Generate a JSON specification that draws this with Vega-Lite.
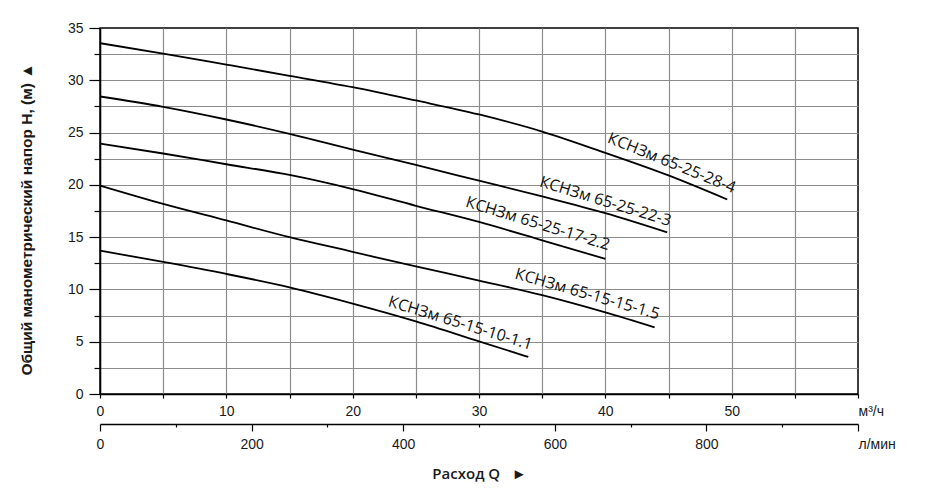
{
  "$schema": "https://vega.github.io/schema/vega-lite/v6.json",
  "width": 758,
  "height": 366,
  "autosize": "none",
  "padding": {"left": 100, "top": 28, "right": 69, "bottom": 110},
  "background": "white",
  "config": {
    "view": {"stroke": "black", "strokeWidth": 1.5},
    "axis": {
      "labelFont": "Liberation Sans",
      "labelFontSize": 14,
      "labelColor": "#1a1a1a",
      "domainColor": "black",
      "domainWidth": 1.5,
      "tickColor": "black",
      "tickWidth": 1.2,
      "labelFlush": false,
      "labelOverlap": false,
      "labelBound": false
    }
  },
  "datasets": {
    "curves": [
      {"pump": "КСНЗм 65-25-28-4", "q": 0, "H": 33.55},
      {"pump": "КСНЗм 65-25-28-4", "q": 5, "H": 32.56},
      {"pump": "КСНЗм 65-25-28-4", "q": 10, "H": 31.5},
      {"pump": "КСНЗм 65-25-28-4", "q": 15, "H": 30.43},
      {"pump": "КСНЗм 65-25-28-4", "q": 20, "H": 29.34},
      {"pump": "КСНЗм 65-25-28-4", "q": 25, "H": 28.07},
      {"pump": "КСНЗм 65-25-28-4", "q": 30, "H": 26.73},
      {"pump": "КСНЗм 65-25-28-4", "q": 35, "H": 25.1},
      {"pump": "КСНЗм 65-25-28-4", "q": 40, "H": 23.06},
      {"pump": "КСНЗм 65-25-28-4", "q": 45, "H": 20.9},
      {"pump": "КСНЗм 65-25-28-4", "q": 49.65, "H": 18.6},
      {"pump": "КСНЗм 65-25-22-3", "q": 0, "H": 28.45},
      {"pump": "КСНЗм 65-25-22-3", "q": 5, "H": 27.46},
      {"pump": "КСНЗм 65-25-22-3", "q": 10, "H": 26.25},
      {"pump": "КСНЗм 65-25-22-3", "q": 15, "H": 24.88},
      {"pump": "КСНЗм 65-25-22-3", "q": 20, "H": 23.37},
      {"pump": "КСНЗм 65-25-22-3", "q": 25, "H": 21.9},
      {"pump": "КСНЗм 65-25-22-3", "q": 30, "H": 20.4},
      {"pump": "КСНЗм 65-25-22-3", "q": 35, "H": 18.9},
      {"pump": "КСНЗм 65-25-22-3", "q": 40, "H": 17.3},
      {"pump": "КСНЗм 65-25-22-3", "q": 44.9, "H": 15.46},
      {"pump": "КСНЗм 65-25-17-2.2", "q": 0, "H": 23.95},
      {"pump": "КСНЗм 65-25-17-2.2", "q": 5, "H": 23.0},
      {"pump": "КСНЗм 65-25-17-2.2", "q": 10, "H": 21.97},
      {"pump": "КСНЗм 65-25-17-2.2", "q": 15, "H": 20.95},
      {"pump": "КСНЗм 65-25-17-2.2", "q": 20, "H": 19.6},
      {"pump": "КСНЗм 65-25-17-2.2", "q": 25, "H": 18.0},
      {"pump": "КСНЗм 65-25-17-2.2", "q": 30, "H": 16.45},
      {"pump": "КСНЗм 65-25-17-2.2", "q": 35, "H": 14.7},
      {"pump": "КСНЗм 65-25-17-2.2", "q": 40, "H": 12.92},
      {"pump": "КСНЗм 65-15-15-1.5", "q": 0, "H": 19.93},
      {"pump": "КСНЗм 65-15-15-1.5", "q": 5, "H": 18.18},
      {"pump": "КСНЗм 65-15-15-1.5", "q": 10, "H": 16.6},
      {"pump": "КСНЗм 65-15-15-1.5", "q": 15, "H": 15.0},
      {"pump": "КСНЗм 65-15-15-1.5", "q": 20, "H": 13.6},
      {"pump": "КСНЗм 65-15-15-1.5", "q": 25, "H": 12.2},
      {"pump": "КСНЗм 65-15-15-1.5", "q": 30, "H": 10.85},
      {"pump": "КСНЗм 65-15-15-1.5", "q": 35, "H": 9.45},
      {"pump": "КСНЗм 65-15-15-1.5", "q": 40, "H": 7.8},
      {"pump": "КСНЗм 65-15-15-1.5", "q": 43.9, "H": 6.37},
      {"pump": "КСНЗм 65-15-10-1.1", "q": 0, "H": 13.71},
      {"pump": "КСНЗм 65-15-10-1.1", "q": 5, "H": 12.63},
      {"pump": "КСНЗм 65-15-10-1.1", "q": 10, "H": 11.48},
      {"pump": "КСНЗм 65-15-10-1.1", "q": 15, "H": 10.2},
      {"pump": "КСНЗм 65-15-10-1.1", "q": 20, "H": 8.65},
      {"pump": "КСНЗм 65-15-10-1.1", "q": 25, "H": 6.95},
      {"pump": "КСНЗм 65-15-10-1.1", "q": 30, "H": 5.04},
      {"pump": "КСНЗм 65-15-10-1.1", "q": 33.9, "H": 3.54}
    ]
  },
  "layer": [
    {
      "data": {"name": "curves"},
      "encoding": {
        "x": {
          "field": "q",
          "type": "quantitative",
          "scale": {"domain": [0, 60], "nice": false, "zero": false},
          "axis": {
            "title": null,
            "values": [0, 5, 10, 15, 20, 25, 30, 35, 40, 45, 50, 55, 60],
            "labelExpr": "datum.value == 60 ? 'м³/ч' : (datum.value % 10 == 0 ? datum.label : '')",
            "labelAlign": {"condition": {"test": "datum.value == 60", "value": "left"}, "value": "center"},
            "tickSize": 4,
            "labelPadding": 6,
            "grid": true,
            "gridColor": "#8c8c8c",
            "gridOpacity": {"condition": {"test": "datum.value == 60", "value": 0}, "value": 1},
            "gridWidth": 1.2
          }
        },
        "y": {
          "field": "H",
          "type": "quantitative",
          "scale": {"domain": [0, 35], "nice": false},
          "axis": {
            "title": "Общий манометрический напор H, (м) ▲",
            "titleFont": "Liberation Sans",
            "titleFontWeight": "bold",
            "titleFontSize": 15.5,
            "titleColor": "#1a1a1a",
            "titlePadding": 33,
            "titleY": 191,
            "values": [0, 2.5, 5, 7.5, 10, 12.5, 15, 17.5, 20, 22.5, 25, 27.5, 30, 32.5, 35],
            "labelExpr": "datum.value % 5 == 0 ? datum.label : ''",
            "tickSize": {"condition": {"test": "datum.value % 5 == 0", "value": 11}, "value": 6},
            "labelPadding": 6,
            "grid": true,
            "gridColor": "#8c8c8c",
            "gridOpacity": {"condition": {"test": "datum.value == 35", "value": 0}, "value": 1},
            "gridWidth": 1.2
          }
        }
      },
      "layer": [
        {
          "mark": {"type": "line", "color": "black", "strokeWidth": 1.8, "interpolate": "monotone"},
          "encoding": {"detail": {"field": "pump", "type": "nominal"}}
        },
        {
          "transform": [
            {"joinaggregate": [{"op": "max", "field": "q", "as": "qmax"}], "groupby": ["pump"]},
            {"filter": "datum.q == datum.qmax && datum.pump == 'КСНЗм 65-25-28-4'"}
          ],
          "mark": {"type": "text", "angle": 22, "align": "right", "baseline": "alphabetic", "dx": 3, "dy": -8, "font": "Open Sans", "fontSize": 16, "color": "#111"},
          "encoding": {"text": {"field": "pump", "type": "nominal"}}
        },
        {
          "transform": [
            {"joinaggregate": [{"op": "max", "field": "q", "as": "qmax"}], "groupby": ["pump"]},
            {"filter": "datum.q == datum.qmax && datum.pump == 'КСНЗм 65-25-22-3'"}
          ],
          "mark": {"type": "text", "angle": 17, "align": "right", "baseline": "alphabetic", "dx": 0, "dy": -6.5, "font": "Open Sans", "fontSize": 16, "color": "#111"},
          "encoding": {"text": {"field": "pump", "type": "nominal"}}
        },
        {
          "transform": [
            {"joinaggregate": [{"op": "max", "field": "q", "as": "qmax"}], "groupby": ["pump"]},
            {"filter": "datum.q == datum.qmax && datum.pump == 'КСНЗм 65-25-17-2.2'"}
          ],
          "mark": {"type": "text", "angle": 17, "align": "right", "baseline": "alphabetic", "dx": 0, "dy": -9, "font": "Open Sans", "fontSize": 16, "color": "#111"},
          "encoding": {"text": {"field": "pump", "type": "nominal"}}
        },
        {
          "transform": [
            {"joinaggregate": [{"op": "max", "field": "q", "as": "qmax"}], "groupby": ["pump"]},
            {"filter": "datum.q == datum.qmax && datum.pump == 'КСНЗм 65-15-15-1.5'"}
          ],
          "mark": {"type": "text", "angle": 16, "align": "right", "baseline": "alphabetic", "dx": 1, "dy": -8.5, "font": "Open Sans", "fontSize": 16, "color": "#111"},
          "encoding": {"text": {"field": "pump", "type": "nominal"}}
        },
        {
          "transform": [
            {"joinaggregate": [{"op": "max", "field": "q", "as": "qmax"}], "groupby": ["pump"]},
            {"filter": "datum.q == datum.qmax && datum.pump == 'КСНЗм 65-15-10-1.1'"}
          ],
          "mark": {"type": "text", "angle": 17, "align": "right", "baseline": "alphabetic", "dx": 0, "dy": -7.5, "font": "Open Sans", "fontSize": 16, "color": "#111"},
          "encoding": {"text": {"field": "pump", "type": "nominal"}}
        }
      ]
    },
    {
      "data": {"values": [{}]},
      "mark": {"type": "rule", "opacity": 0},
      "encoding": {
        "x": {
          "datum": 0,
          "type": "quantitative",
          "scale": {"domain": [0, 1000], "nice": false, "zero": false},
          "axis": {
            "orient": "bottom",
            "offset": 30,
            "values": [0, 100, 200, 300, 400, 500, 600, 700, 800, 900, 1000],
            "labelExpr": "datum.value == 1000 ? 'л/мин' : (datum.value % 200 == 0 ? datum.label : '')",
            "labelAlign": {"condition": {"test": "datum.value == 1000", "value": "left"}, "value": "center"},
            "tickSize": {"condition": {"test": "datum.value % 200 == 0", "value": 7}, "value": 3},
            "labelPadding": 6,
            "grid": false,
            "title": "Расход Q\u00a0\u00a0\u00a0►",
            "titleFont": "Open Sans",
            "titleFontWeight": 600,
            "titleFontSize": 15,
            "titleColor": "#1a1a1a",
            "titlePadding": 15
          }
        }
      }
    }
  ],
  "resolve": {"scale": {"x": "independent"}, "axis": {"x": "independent"}}
}
